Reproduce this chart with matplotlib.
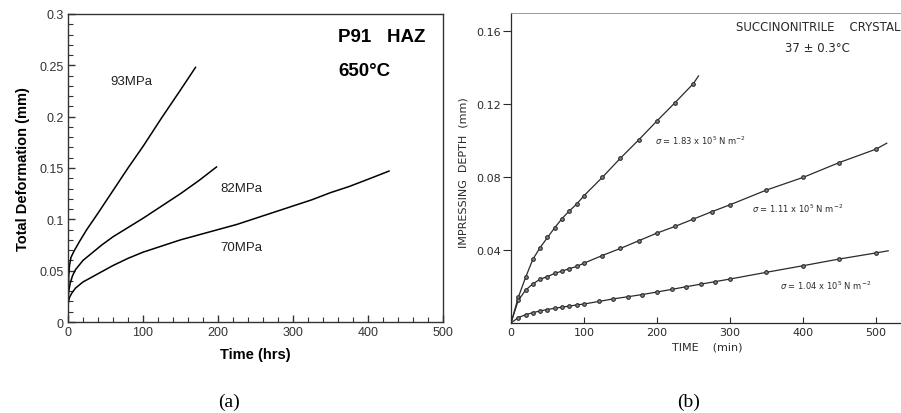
import numpy as np
import matplotlib
matplotlib.use('Agg')
import matplotlib.pyplot as plt

# ---- panel (a): P91 HAZ creep curves ----
t93 = [0, 1, 2, 4, 8, 15, 25, 40, 60, 80, 100, 125, 150, 170]
d93 = [0.022, 0.045, 0.055, 0.063, 0.069, 0.078, 0.090, 0.106, 0.128, 0.150, 0.171, 0.199, 0.226, 0.248]

t82 = [0, 1, 3, 6, 10, 20, 30, 45, 60, 80, 100, 125, 150, 175, 198]
d82 = [0.020, 0.030, 0.038, 0.045, 0.051, 0.060, 0.066, 0.075, 0.083, 0.092, 0.101, 0.113, 0.125, 0.138, 0.151]

t70 = [0, 2, 5, 10, 20, 40, 60, 80, 100, 125, 150, 175, 200, 225, 250, 275, 300, 325, 350, 375, 400, 428]
d70 = [0.017, 0.024, 0.028, 0.033, 0.039, 0.047, 0.055, 0.062, 0.068, 0.074, 0.080, 0.085, 0.090, 0.095,
       0.101, 0.107, 0.113, 0.119, 0.126, 0.132, 0.139, 0.147]

a_xticks = [0, 100, 200, 300, 400, 500]
a_yticks = [0, 0.05, 0.1, 0.15, 0.2, 0.25, 0.3]
a_yticklabels = ['0', '0.05', '0.1', '0.15', '0.2', '0.25', '0.3']

# ---- panel (b): succinonitrile impressing depth ----
s183_t = [0, 10, 20, 30, 40, 50, 60, 70, 80, 90, 100, 125, 150, 175, 200, 225, 250, 257]
s183_d = [0, 0.0141, 0.025, 0.035, 0.0414, 0.0469, 0.0523, 0.0573, 0.0615, 0.0652, 0.0698,
          0.0798, 0.0904, 0.1004, 0.1108, 0.1209, 0.1313, 0.1355]

s111_t = [0, 10, 20, 30, 40, 50, 60, 70, 80, 90, 100, 125, 150, 175, 200, 225, 250, 275, 300,
          350, 400, 450, 500, 515]
s111_d = [0, 0.0125, 0.018, 0.0215, 0.024, 0.0255, 0.0272, 0.0285, 0.0298, 0.031, 0.0328, 0.037,
          0.0409, 0.0451, 0.0493, 0.053, 0.057, 0.061, 0.0648, 0.0729, 0.0798, 0.088, 0.0953, 0.0986]

s104_t = [0, 10, 20, 30, 40, 50, 60, 70, 80, 90, 100, 120, 140, 160, 180, 200, 220, 240, 260,
          280, 300, 350, 400, 450, 500, 517]
s104_d = [0, 0.003, 0.0045, 0.0057, 0.0066, 0.0074, 0.0081, 0.0087, 0.0093, 0.0099, 0.0104,
          0.0118, 0.0132, 0.0144, 0.0156, 0.017, 0.0184, 0.0199, 0.0213, 0.0227, 0.0241, 0.0278,
          0.0314, 0.0351, 0.0384, 0.0396]

b_xticks = [0, 100, 200, 300, 400, 500]
b_yticks = [0.04, 0.08, 0.12, 0.16]
b_yticklabels = ['0.04', '0.08', '0.12', '0.16']

plt.rcParams['font.family'] = ['Liberation Sans', 'DejaVu Sans']
plt.rcParams['mathtext.fontset'] = 'dejavusans'

fig = plt.figure(figsize=(9.01, 4.14), dpi=100)

# panel (a)
ax1 = fig.add_axes([68/901, 1-323/414, 375/901, 308/414])
ax1.plot(t93, d93, color='black', lw=1.1)
ax1.plot(t82, d82, color='black', lw=1.1)
ax1.plot(t70, d70, color='black', lw=1.1)
ax1.set_xlim(0, 500)
ax1.set_ylim(0, 0.3)
ax1.set_xticks(a_xticks)
ax1.set_xticks(np.arange(0, 501, 20), minor=True)
ax1.set_yticks(a_yticks)
ax1.set_yticklabels(a_yticklabels)
ax1.set_yticks(np.arange(0, 0.301, 0.01), minor=True)
ax1.tick_params(which='both', direction='in', top=False, right=False, labelsize=9, colors='#333333', pad=3)
ax1.tick_params(which='major', length=5, width=1)
ax1.tick_params(which='minor', length=3.5, width=0.8)
for s in ax1.spines.values():
    s.set_color('#333333')
    s.set_linewidth(1.0)
ax1.set_xlabel('Time (hrs)', fontsize=10.5, fontweight='bold', labelpad=6)
ax1.set_ylabel('Total Deformation (mm)', fontsize=10.5, fontweight='bold', labelpad=7)
ax1.text(85, 0.235, '93MPa', fontsize=9.5, ha='center', va='center', color='#222222')
ax1.text(231, 0.131, '82MPa', fontsize=9.5, ha='center', va='center', color='#222222')
ax1.text(231, 0.073, '70MPa', fontsize=9.5, ha='center', va='center', color='#222222')
ax1.text(360, 0.278, 'P91   HAZ', fontsize=13.5, fontweight='bold', va='center')
ax1.text(360, 0.245, '650°C', fontsize=13.5, fontweight='bold', va='center')

# panel (b)
ink = '#2a2a2a'
bfont = 'DejaVu Sans'
ax2 = fig.add_axes([511/901, 1-324/414, 394/901, 310/414])
for tt, dd in [(s183_t, s183_d), (s111_t, s111_d), (s104_t, s104_d)]:
    ax2.plot(tt, dd, color=ink, lw=0.9)
    ax2.plot(tt[1:-1], dd[1:-1], 'o', ms=2.6, mfc='#888888', mec=ink, mew=0.8, ls='none')
ax2.set_xlim(0, 540)
ax2.set_ylim(0, 0.17)
ax2.set_xticks(b_xticks)
ax2.set_yticks(b_yticks)
ax2.set_yticklabels(b_yticklabels)
ax2.tick_params(axis='x', direction='in', length=4, width=0.8, labelsize=8, colors=ink, pad=3)
ax2.tick_params(axis='y', direction='out', length=6, width=0.8, labelsize=8, colors=ink, pad=1)
for lab in ax2.get_xticklabels() + ax2.get_yticklabels():
    lab.set_family(bfont)
ax2.spines['right'].set_visible(False)
ax2.spines['top'].set_color('#999999')
ax2.spines['top'].set_linewidth(0.7)
ax2.spines['left'].set_color(ink)
ax2.spines['bottom'].set_color(ink)
ax2.spines['left'].set_linewidth(0.9)
ax2.spines['bottom'].set_linewidth(0.9)
ax2.text(308, 0.1627, 'SUCCINONITRILE    CRYSTAL', fontsize=8.5, va='center', color=ink, family=bfont)
ax2.text(375, 0.1512, '37 ± 0.3°C', fontsize=8.5, va='center', color=ink, family=bfont)
ax2.text(197, 0.1003, r'$\sigma$ = 1.83 x 10$^5$ N m$^{-2}$', fontsize=6, va='center', color=ink, family=bfont)
ax2.text(330, 0.063, r'$\sigma$ = 1.11 x 10$^5$ N m$^{-2}$', fontsize=6, va='center', color=ink, family=bfont)
ax2.text(368, 0.0208, r'$\sigma$ = 1.04 x 10$^5$ N m$^{-2}$', fontsize=6, va='center', color=ink, family=bfont)
fig.text(707/901, 1-348/414, 'TIME    (min)', fontsize=8, ha='center', va='center', color=ink, family=bfont)
fig.text(463/901, 1-173/414, 'IMPRESSING  DEPTH  (mm)', fontsize=8, rotation=90,
         ha='center', va='center', color=ink, family=bfont)

fig.text(229/901, 1-402/414, '(a)', fontsize=14, ha='center', va='center', family='Liberation Serif')
fig.text(689/901, 1-402/414, '(b)', fontsize=14, ha='center', va='center', family='Liberation Serif')

fig.savefig('out.png', dpi=100)
